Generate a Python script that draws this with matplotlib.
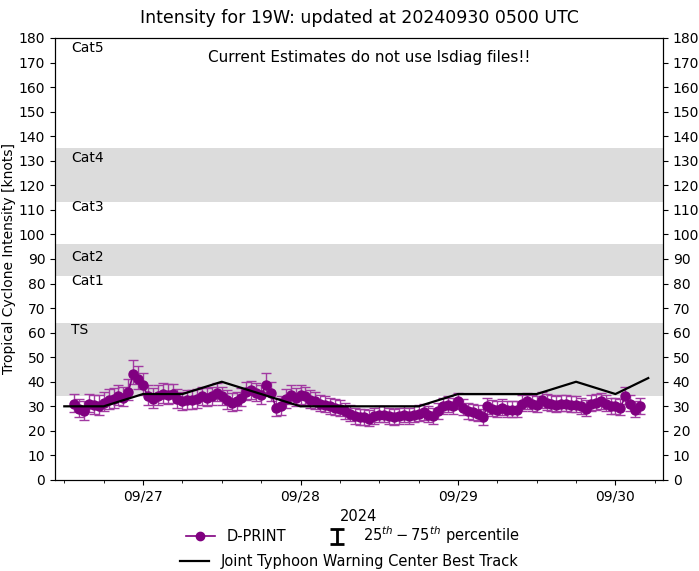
import matplotlib

matplotlib.use("Agg")
import matplotlib.dates as mdates
import matplotlib.pyplot as plt
import numpy as np
import pandas as pd
from matplotlib.lines import Line2D

TITLE = "Intensity for 19W: updated at 20240930 0500 UTC"
NOTE = "Current Estimates do not use lsdiag files!!"

# D-PRINT estimates, every 45 minutes from 09/26 13:30 UTC
DPRINT_START = "2024-09-26 13:30"
DPRINT_STEP = "45min"
DPRINT_KT = [
    31, 29, 28, 31, 30.5, 30, 31.5, 32.5, 33, 34,
    33.5, 36, 43, 41, 38.5, 34, 33, 34, 35, 34.5,
    35, 33, 32, 32.5, 32.5, 33, 34, 33.5, 34, 35.5,
    34, 32.5, 31.5, 32, 33.5, 36, 36.5, 35.5, 34.5, 38.5,
    35.5, 29.5, 30, 33, 34.5, 33.5, 34.5, 34, 32.5, 32,
    31, 30.5, 30, 29.5, 29, 28, 27, 26, 25.5, 25.5,
    25, 26, 26.5, 26.5, 26, 25.5, 26, 26.5, 26, 26.5,
    27, 27.5, 26.5, 26, 28, 30, 30.5, 30, 32, 29.5,
    28, 27.5, 27, 25.5, 30, 29, 28.5, 29.5, 28.5, 28.5,
    28.5, 31, 32, 31, 30.5, 32.5, 31.5, 31, 30.5, 31,
    31, 30.5, 30.5, 30, 29, 31, 31.5, 32, 31, 30,
    30, 29.5, 34, 31, 28.5, 30,
]
# distance from estimate down to 25th and up to 75th percentile
P25_GAP = [
    3.5, 3.5, 3.5, 3.5, 3.5, 3.5, 3.5, 3.5, 3.5, 3.5,
    3.5, 3.5, 4, 4, 4, 3.5, 3.5, 3.5, 3.5, 3.5,
    3.5, 3.5, 3.5, 3.5, 3.5, 3.5, 3.5, 3.5, 3.5, 3.5,
    3.5, 3.5, 3.5, 3.5, 3.5, 3.5, 3.5, 3.5, 3.5, 4,
    3.5, 3.5, 3.5, 3.5, 3.5, 3.5, 3.5, 3.5, 3, 3,
    3, 3, 3, 3, 3, 3, 3, 3, 3, 3,
    3, 3, 3, 3, 3, 3, 3, 3, 3, 3,
    3, 3, 3, 3, 3, 3, 3, 3, 3, 3,
    3, 3, 3, 3, 3, 3, 3, 3, 3, 3,
    3, 3, 3, 3, 3, 3, 3, 3, 3, 3,
    3, 3, 3, 3, 3, 3, 3, 3, 3, 3,
    3, 3, 3, 3, 3, 3,
]
P75_GAP = [
    4, 4, 4, 4, 4, 4.5, 4.5, 4.5, 4.5, 4.5,
    4.5, 5, 6, 5.5, 5, 4.5, 4.5, 4.5, 4.5, 4.5,
    4, 4, 4, 4, 4, 4, 4, 4, 4, 4,
    4, 4, 4, 4, 4, 4, 4, 4, 4, 5,
    4.5, 4, 4, 4, 4, 4, 4, 4, 4, 4,
    3.5, 3.5, 3.5, 3.5, 3.5, 3.5, 3.5, 3.5, 3.5, 3.5,
    3.5, 3.5, 3.5, 3.5, 3.5, 3.5, 3.5, 3.5, 3.5, 3.5,
    3.5, 3.5, 3.5, 3.5, 3.5, 3.5, 3.5, 3.5, 3.5, 3.5,
    3.5, 3.5, 3.5, 3.5, 3.5, 3.5, 3.5, 3.5, 3.5, 3.5,
    3.5, 3.5, 3.5, 3.5, 3.5, 3.5, 3.5, 3.5, 3.5, 3.5,
    3.5, 3.5, 3.5, 3.5, 3.5, 3.5, 3.5, 3.5, 3.5, 3.5,
    3.5, 3.5, 4, 3.5, 3.5, 3.5,
]

# JTWC best track
BT_TIMES = [
    "2024-09-26 12:00", "2024-09-26 18:00", "2024-09-27 00:00", "2024-09-27 06:00",
    "2024-09-27 12:00", "2024-09-27 18:00", "2024-09-28 00:00", "2024-09-28 06:00",
    "2024-09-28 12:00", "2024-09-28 18:00", "2024-09-29 00:00", "2024-09-29 06:00",
    "2024-09-29 12:00", "2024-09-29 18:00", "2024-09-30 00:00", "2024-09-30 05:00",
]
BT_KT = [30, 30, 35, 35, 40, 35, 30, 30, 30, 30, 35, 35, 35, 40, 35, 41.5]

# Saffir-Simpson shading (shaded bands) and labels
SHADED_BANDS = [(34, 64), (83, 96), (113, 135)]
CAT_LABELS = ["TS", "Cat1", "Cat2", "Cat3", "Cat4", "Cat5"]
CAT_LABEL_KT = [61, 81, 91, 111, 131, 176]

XLIM = ("2024-09-26 10:35", "2024-09-30 07:15")

COLOR_DPRINT = "#800080"
COLOR_ERR = "#a23aa2"
COLOR_BAND = "#dcdcdc"

times = pd.date_range(DPRINT_START, periods=len(DPRINT_KT), freq=DPRINT_STEP)
vals = np.array(DPRINT_KT, dtype=float)
yerr = np.array([P25_GAP, P75_GAP], dtype=float)
bt_times = pd.to_datetime(BT_TIMES)

fig = plt.figure(figsize=(6.99, 5.71), dpi=100)
ax = fig.add_axes([0.0787, 0.1594, 0.8698, 0.7741])

for lo, hi in SHADED_BANDS:
    ax.axhspan(lo, hi, color=COLOR_BAND, lw=0, zorder=0)

ax.errorbar(times, vals, yerr=yerr, fmt="none", ecolor=COLOR_ERR, elinewidth=1.0,
            capsize=3.5, capthick=1.0, zorder=2)
ax.plot(times, vals, "-o", color=COLOR_DPRINT, markersize=6.5, linewidth=1.2, zorder=3)
ax.plot(bt_times, BT_KT, color="black", linewidth=1.6, zorder=4)

x_text = pd.Timestamp("2024-09-26 13:00")
for lab, kt in zip(CAT_LABELS, CAT_LABEL_KT):
    ax.text(x_text, kt, lab, fontsize=10, va="center", ha="left", zorder=5)

ax.text(0.516, 0.955, NOTE, transform=ax.transAxes, fontsize=11, ha="center", va="center")

ax.set_xlim(pd.Timestamp(XLIM[0]), pd.Timestamp(XLIM[1]))
ax.set_ylim(0, 180)
ax.set_yticks(range(0, 181, 10))
ax.xaxis.set_major_locator(mdates.DayLocator())
ax.xaxis.set_major_formatter(mdates.DateFormatter("%m/%d"))
ax.xaxis.set_minor_locator(mdates.HourLocator(byhour=[0, 6, 12, 18]))
ax.tick_params(labelsize=10)
ax.set_xlabel("2024", fontsize=10.5)
ax.set_ylabel("Tropical Cyclone Intensity [knots]", fontsize=10, labelpad=2)
ax.set_title(TITLE, fontsize=12.5, pad=11)

ax2 = ax.twinx()
ax2.set_ylim(0, 180)
ax2.set_yticks(range(0, 181, 10))
ax2.tick_params(labelsize=10)

# legend: row one D-PRINT and percentile bar, row two best track
h_dprint = Line2D([], [], color=COLOR_DPRINT, marker="o", markersize=6, linewidth=1.2)
h_pct = ax.errorbar([np.nan], [np.nan], yerr=[1.0], fmt="none", ecolor="black",
                    elinewidth=2, capsize=5, capthick=2)
h_bt = Line2D([], [], color="black", linewidth=1.6)
fig.legend([h_dprint, h_pct], ["D-PRINT", r"$25^{th}-75^{th}$ percentile"],
           loc="center", bbox_to_anchor=(0.505, 0.062), ncol=2, frameon=False,
           fontsize=10.5, columnspacing=2.5)
fig.legend([h_bt], ["Joint Typhoon Warning Center Best Track"], loc="center",
           bbox_to_anchor=(0.5, 0.017), frameon=False, fontsize=10.5)

fig.savefig("out.png", dpi=100)
